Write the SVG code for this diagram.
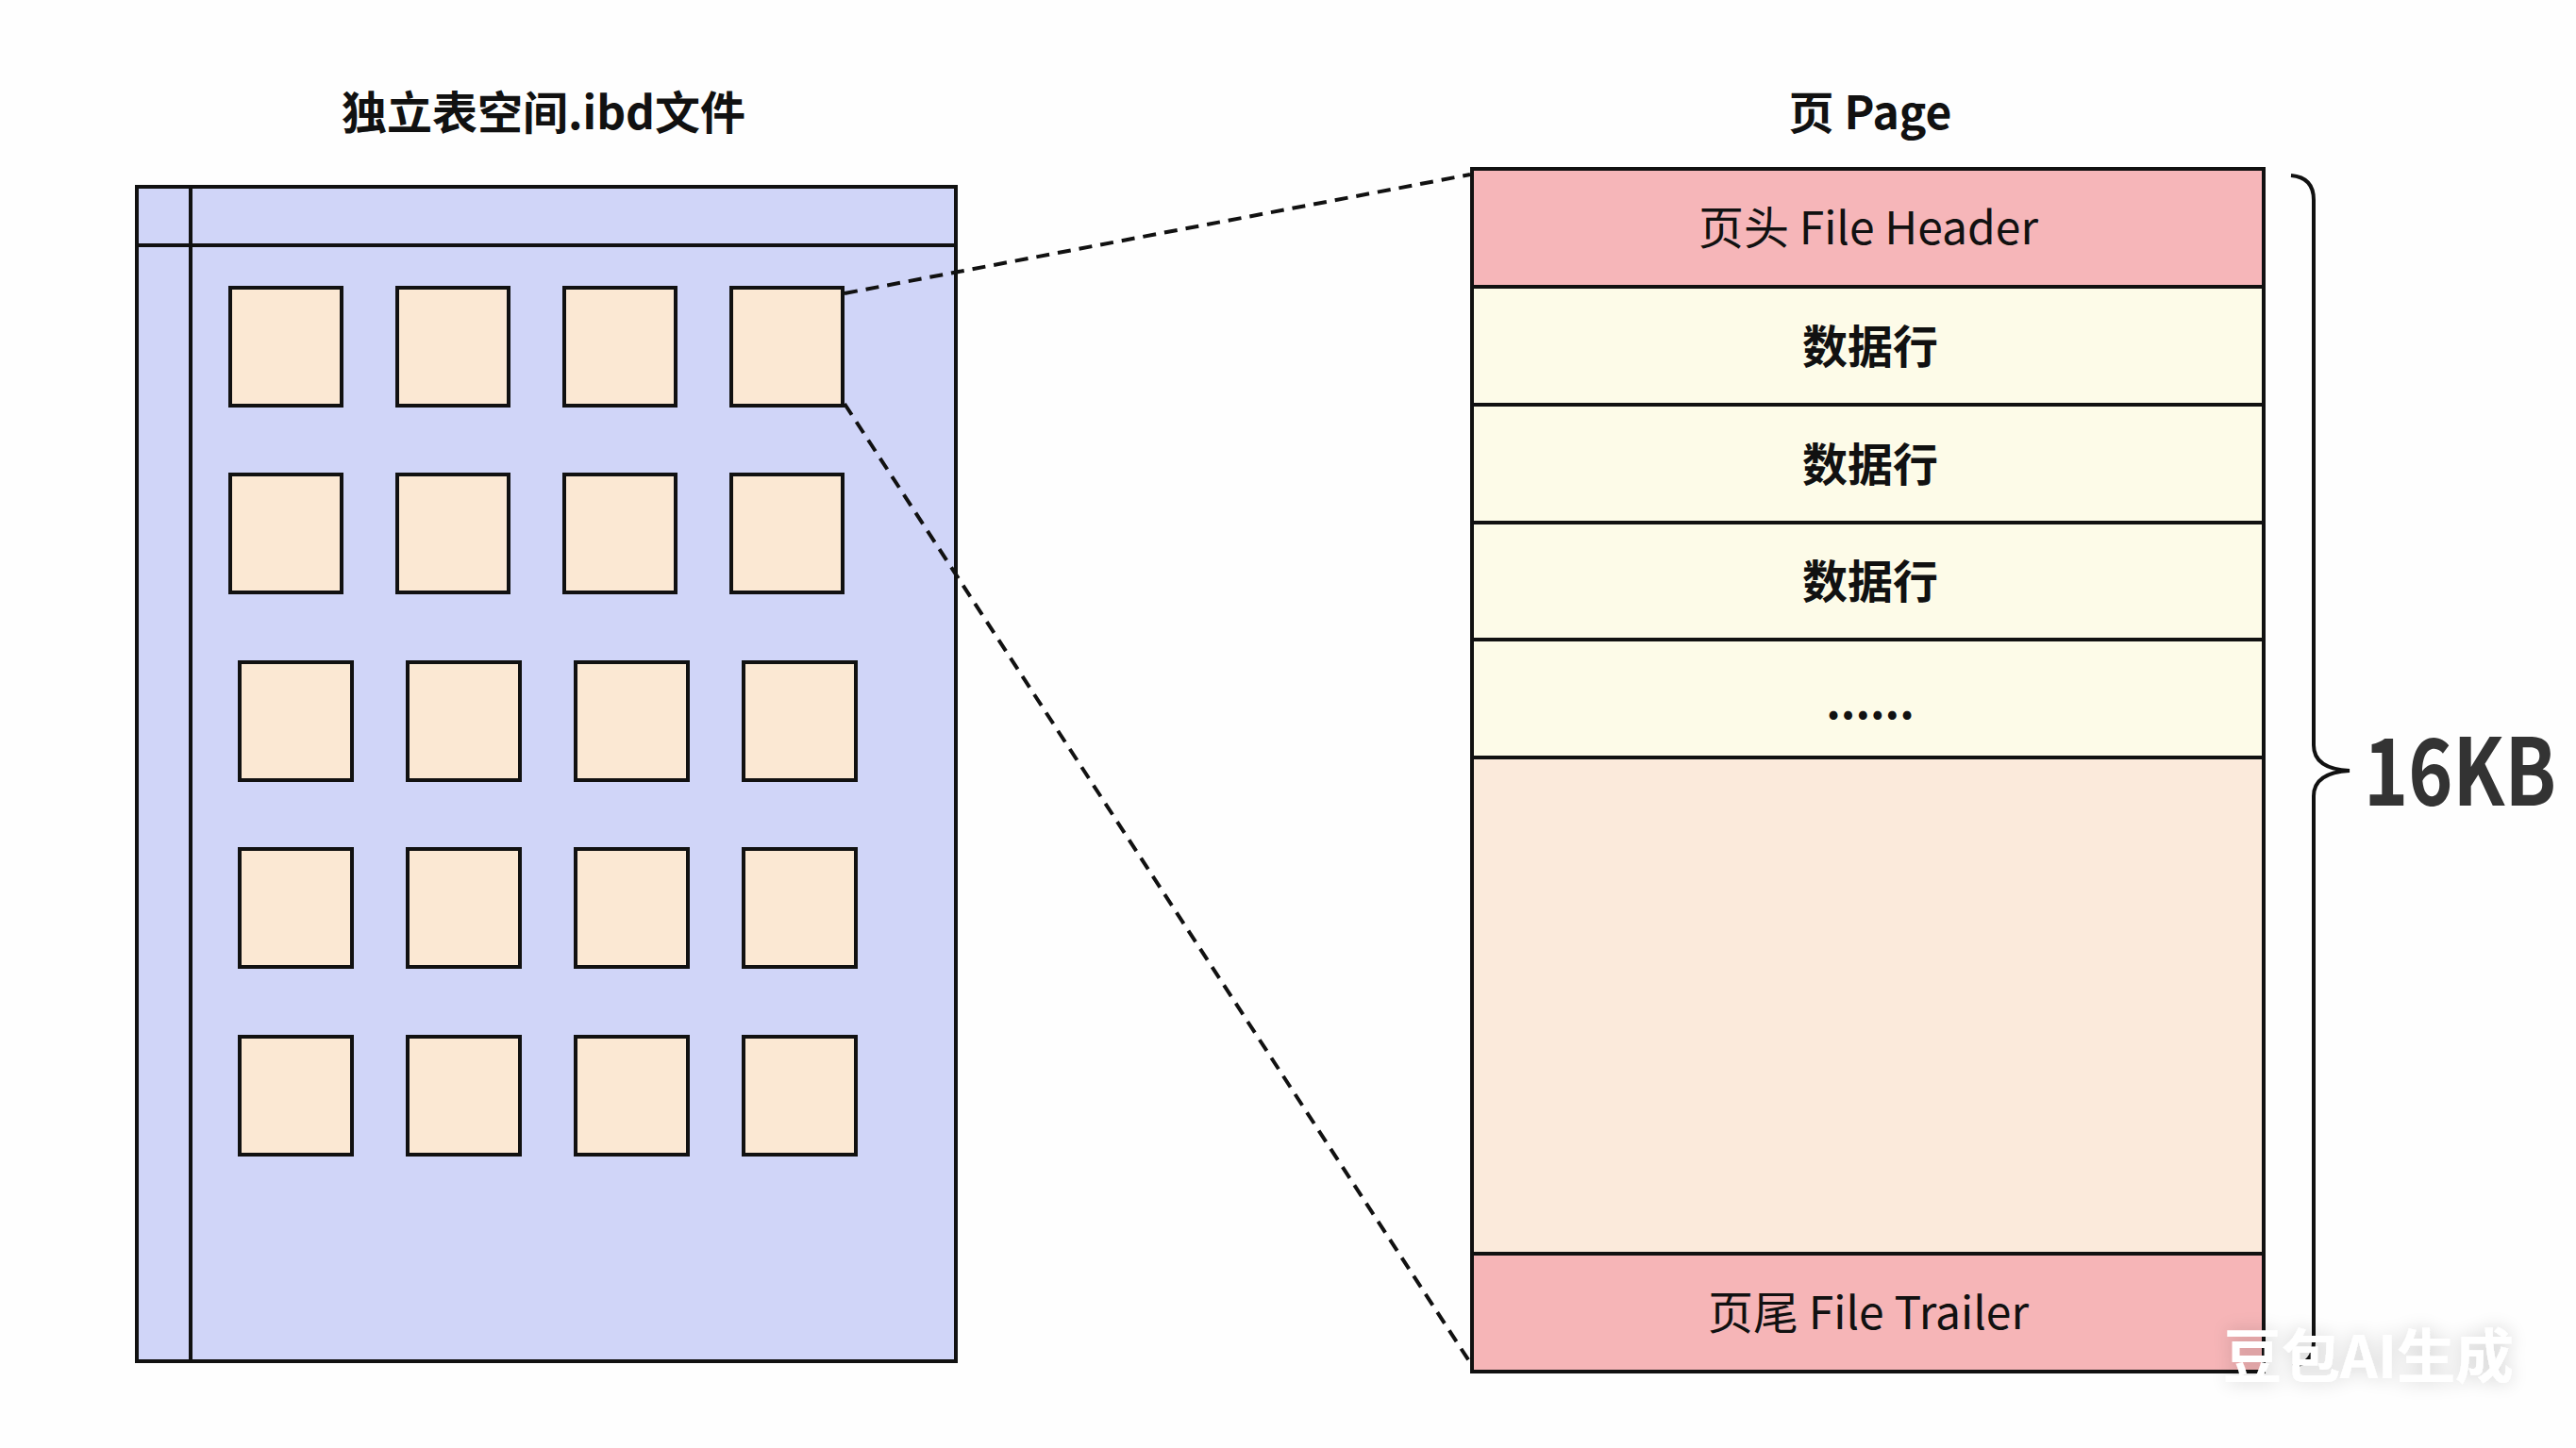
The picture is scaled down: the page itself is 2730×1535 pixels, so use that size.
<svg xmlns="http://www.w3.org/2000/svg" width="2730" height="1535" viewBox="0 0 2730 1535">
<style>
.t{font-family:"Noto Sans CJK SC","Noto Sans",sans-serif;fill:#111;text-anchor:middle}
.title{font-size:48px;font-weight:700}
.lbl{font-size:48px}
.row{font-size:48px;font-weight:700}
.blk{fill:#fbe8d3;stroke:#111;stroke-width:4}
.seg{stroke:#111;stroke-width:4}
.dash{fill:none;stroke:#111;stroke-width:4;stroke-dasharray:14 9}
</style>
<defs>
<filter id="sh" x="-20%" y="-40%" width="140%" height="180%">
<feGaussianBlur in="SourceAlpha" stdDeviation="10"/>
<feComponentTransfer><feFuncA type="linear" slope="0.18"/></feComponentTransfer>
<feMerge><feMergeNode/><feMergeNode in="SourceGraphic"/></feMerge>
</filter>
</defs>
<rect width="2730" height="1535" fill="#fefefe"/>

<g id="ibd-file">
<text class="t title" x="576" y="137">独立表空间.ibd文件</text>
<rect x="145" y="198" width="868" height="1245" fill="#d0d5f8" class="seg"/>
<line x1="202" y1="198" x2="202" y2="1443" class="seg"/>
<line x1="145" y1="260" x2="1013" y2="260" class="seg"/>
</g>

<g id="pages">
<rect class="blk" x="244" y="305" width="118" height="125"/>
<rect class="blk" x="421" y="305" width="118" height="125"/>
<rect class="blk" x="598" y="305" width="118" height="125"/>
<rect class="blk" x="775" y="305" width="118" height="125"/>
<rect class="blk" x="244" y="503" width="118" height="125"/>
<rect class="blk" x="421" y="503" width="118" height="125"/>
<rect class="blk" x="598" y="503" width="118" height="125"/>
<rect class="blk" x="775" y="503" width="118" height="125"/>
<rect class="blk" x="254" y="702" width="119" height="125"/>
<rect class="blk" x="432" y="702" width="119" height="125"/>
<rect class="blk" x="610" y="702" width="119" height="125"/>
<rect class="blk" x="788" y="702" width="119" height="125"/>
<rect class="blk" x="254" y="900" width="119" height="125"/>
<rect class="blk" x="432" y="900" width="119" height="125"/>
<rect class="blk" x="610" y="900" width="119" height="125"/>
<rect class="blk" x="788" y="900" width="119" height="125"/>
<rect class="blk" x="254" y="1099" width="119" height="125"/>
<rect class="blk" x="432" y="1099" width="119" height="125"/>
<rect class="blk" x="610" y="1099" width="119" height="125"/>
<rect class="blk" x="788" y="1099" width="119" height="125"/>
</g>

<g id="page-detail">
<text class="t title" x="1982" y="137">页 Page</text>
<rect x="1560" y="179" width="839" height="125" fill="#f6b6b9"/>
<rect x="1560" y="304" width="839" height="499" fill="#fdfbe8"/>
<rect x="1560" y="803" width="839" height="526" fill="#fbeadb"/>
<rect x="1560" y="1329" width="839" height="125" fill="#f6b5b7"/>
<rect x="1560" y="179" width="839" height="1275" fill="none" class="seg"/>
<line x1="1560" y1="304" x2="2399" y2="304" class="seg"/>
<line x1="1560" y1="429" x2="2399" y2="429" class="seg"/>
<line x1="1560" y1="554" x2="2399" y2="554" class="seg"/>
<line x1="1560" y1="678" x2="2399" y2="678" class="seg"/>
<line x1="1560" y1="803" x2="2399" y2="803" class="seg"/>
<line x1="1560" y1="1329" x2="2399" y2="1329" class="seg"/>
<text class="t lbl" x="1980" y="259">页头 File Header</text>
<text class="t row" x="1982" y="385">数据行</text>
<text class="t row" x="1982" y="510">数据行</text>
<text class="t row" x="1982" y="634">数据行</text>
<text class="t row" x="1982" y="762">......</text>
<text class="t lbl" x="1980" y="1409">页尾 File Trailer</text>
</g>

<g id="size-brace">
<path d="M2428,186 Q2452,188 2452,212 L2452,790 Q2452,815 2490,817 Q2452,819 2452,844 L2452,1422 Q2452,1446 2430,1448" fill="none" stroke="#111" stroke-width="4"/>
<text x="2505" y="854" font-family="Noto Sans CJK SC, Noto Sans, sans-serif" font-size="98" font-weight="700" fill="#333" textLength="204" lengthAdjust="spacingAndGlyphs">16KB</text>
</g>

<g id="connectors">
<line class="dash" x1="895" y1="311" x2="1558" y2="185"/>
<line class="dash" x1="895" y1="428" x2="1561" y2="1449"/>
</g>

<g id="watermark" filter="url(#sh)">
<text x="2510" y="1461" font-family="Noto Sans CJK SC, sans-serif" font-size="62" font-weight="700" fill="#ffffff" text-anchor="middle">豆包AI生成</text>
</g>
</svg>
